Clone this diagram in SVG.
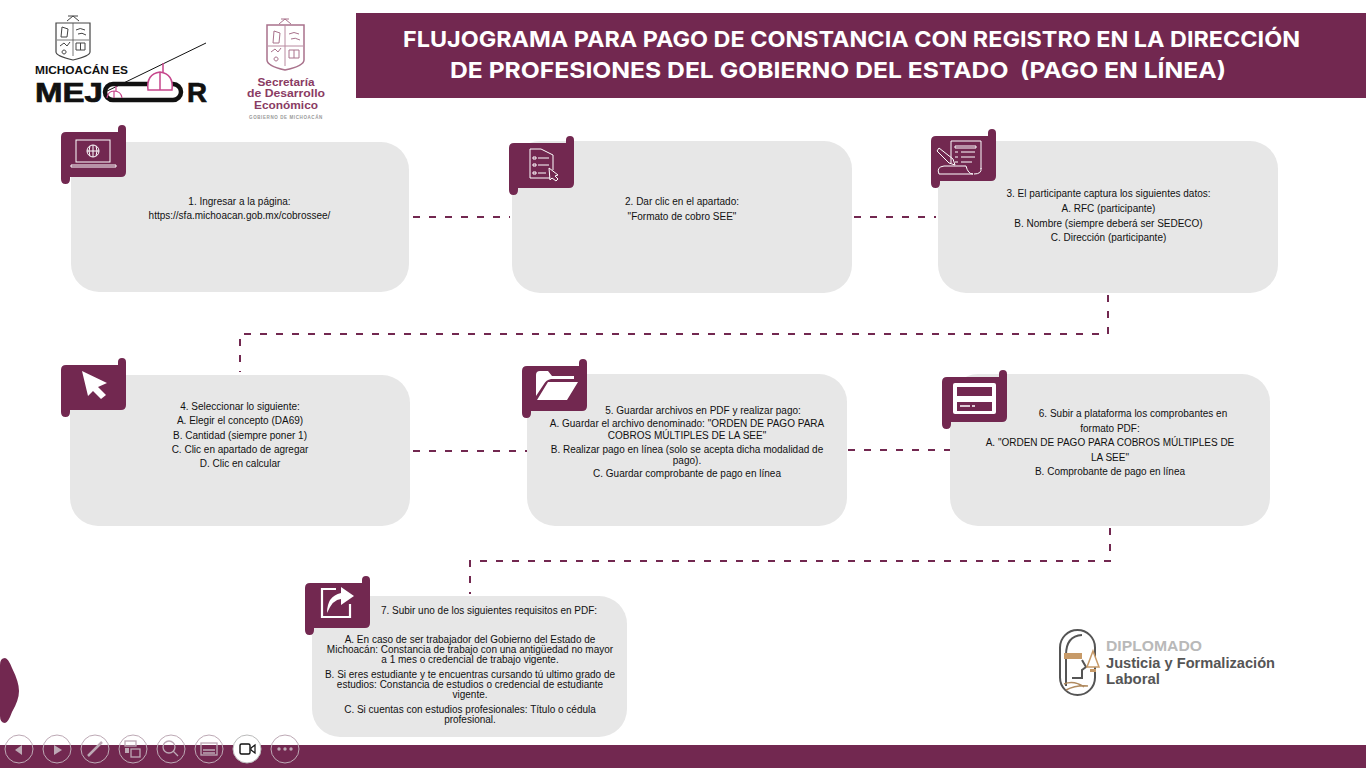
<svg xmlns="http://www.w3.org/2000/svg" width="1366" height="768" viewBox="0 0 1366 768">
<style>
.box{fill:#e7e7e7}
.ban{fill:#722850}
.t{font-family:"Liberation Sans",Arial,sans-serif;font-size:10px;fill:#111;text-anchor:middle}
.h{font-family:Inter,"Open Sans",sans-serif;font-weight:700;font-size:22px;fill:#fff;text-anchor:middle}
.c{fill:none;stroke:#722850;stroke-width:2;stroke-dasharray:7 9}
.i{fill:none;stroke:#fff;stroke-width:1}
.tb{fill:none;stroke:#bda9b5;stroke-width:1}
.tbi{fill:#bda9b5}
.tbs{fill:none;stroke:#bda9b5;stroke-width:1.300}
.lg{font-family:"Liberation Sans",sans-serif;font-weight:700;text-anchor:middle}
.ls{font-family:"Liberation Sans",sans-serif;font-weight:700;font-size:14.500px}
.crest{fill:none;stroke:#444;stroke-width:1}
.crest2{fill:none;stroke:#a9728c;stroke-width:1}
</style>
<defs>
<path id="banner" d="M0 5Q0 0 5 0H57V-3Q57 -7 61 -7Q65 -7 65 -3V40Q65 45 60 45H9V47Q9 52 4.500 52Q0 52 0 47Z"/>
</defs>
<rect width="1366" height="768" fill="#fff"/>

<g id="header">
<rect x="356" y="13" width="1010" height="85" class="ban"/>
<text class="h" x="851.500" y="47" textLength="897" lengthAdjust="spacingAndGlyphs">FLUJOGRAMA PARA PAGO DE CONSTANCIA CON REGISTRO EN LA DIRECCIÓN</text>
<text class="h" x="838" y="78" textLength="776" lengthAdjust="spacingAndGlyphs" xml:space="preserve">DE PROFESIONES DEL GOBIERNO DEL ESTADO  (PAGO EN LÍNEA)</text>
</g>

<g id="logo-michoacan">
<path d="M56 23H90V52Q90 56 73 60Q56 56 56 52Z" fill="#fff" stroke="#444" stroke-width="1.200"/>
<path d="M73 23V56M57 40H89" stroke="#555" stroke-width=".8"/>
<path class="crest" d="M62 27L68 29L67 37H61ZM76 30Q80 27 85 30M78 34Q82 32 86 35M60 46L64 43L67 46L70 42M64 50a2 2 0 1 0 .1 0M76 43H85V50H76ZM80.500 43V50"/>
<path class="crest" d="M67 21L73 16L79 21M68 16H78"/>
<text x="81.500" y="74" class="lg" font-size="11.500" fill="#111" textLength="93" lengthAdjust="spacingAndGlyphs">MICHOACÁN ES</text>
<text x="69" y="102" class="lg" font-size="28" fill="#111" stroke="#111" stroke-width=".7" textLength="68" lengthAdjust="spacingAndGlyphs">MEJ</text>
<rect x="105" y="84" width="76" height="16" rx="8" fill="#fff" stroke="#111" stroke-width="4.500"/>
<text x="197" y="102" class="lg" font-size="28" fill="#111" stroke="#111" stroke-width=".7" textLength="20" lengthAdjust="spacingAndGlyphs">R</text>
<path d="M103 93L206 43" stroke="#111" stroke-width="1"/>
<path d="M163 63V72M148 90Q146 74 160 72Q174 74 172 90ZM160 73V90" fill="#fff" stroke="#c6468c" stroke-width="1.500"/>
<path d="M116 86V91M107 98Q108 91 114 91Q121 91 122 98M114 91V98" fill="none" stroke="#c6468c" stroke-width="1.200"/>
</g>

<g id="logo-secretaria">
<path d="M267 25H304V60Q304 66 285 70Q267 66 267 60Z" fill="#fff" stroke="#a9728c" stroke-width="1.500"/>
<path d="M285 25V66M268 46H303" stroke="#b88aa0"/>
<path class="crest2" d="M274 31L280 33L279 43H273ZM289 34Q294 31 299 34M291 39Q295 37 300 40M271 52L275 49L278 52L281 48M276 57a2 2 0 1 0 .1 0M289 50H299V58H289ZM294 50V58"/>
<path class="crest2" d="M279 24L285 19L291 24M281 19H289"/>
<text class="lg" x="286" y="85.500" font-size="11.500" fill="#8a3b63" textLength="57" lengthAdjust="spacingAndGlyphs">Secretaría</text>
<text class="lg" x="286" y="97" font-size="11.500" fill="#8a3b63" textLength="78" lengthAdjust="spacingAndGlyphs">de Desarrollo</text>
<text class="lg" x="286" y="108.500" font-size="11.500" fill="#8a3b63" textLength="64" lengthAdjust="spacingAndGlyphs">Económico</text>
<text class="lg" x="286" y="119" font-size="4.500" fill="#999" font-weight="400" letter-spacing=".6">GOBIERNO DE MICHOACÁN</text>
</g>

<g id="connectors">
<path class="c" d="M413 217H510"/>
<path class="c" d="M854 217H936"/>
<path class="c" d="M1108 295V334H240V372"/>
<path class="c" d="M413 451H527"/>
<path class="c" d="M848 450H950"/>
<path class="c" d="M1110 528V561H470V594"/>
</g>

<g id="node1">
<rect class="box" x="71" y="142" width="338" height="150" rx="28"/>
<use href="#banner" class="ban" x="61" y="132"/>
<rect class="i" x="76" y="140" width="34" height="22"/>
<circle class="i" cx="93" cy="151" r="6"/><path class="i" d="M87 151H99M93 145V157M90 146Q88 151 90 156M96 146Q98 151 96 156"/>
<path class="i" d="M71 165H116V167H71Z"/>
<text class="t" x="239.500" y="205">1. Ingresar a la página:</text>
<text class="t" x="239.500" y="219">https://sfa.michoacan.gob.mx/cobrossee/</text>
</g>

<g id="node2">
<rect class="box" x="512" y="141" width="340" height="152" rx="28"/>
<use href="#banner" class="ban" x="509" y="143"/>
<path class="i" d="M530 149H541L553 155V170M530 149V178H550"/>
<path class="i" d="M533 157h3v2h-3zM538 158H549M533 164h3v2h-3zM538 165H549M533 172h3v2h-3zM538 173H546"/>
<path class="i" d="M549 168L558 175L555 176L558 179L556 181L552 178L550 180Z"/>
<text class="t" x="682" y="205">2. Dar clic en el apartado:</text>
<text class="t" x="682" y="220">"Formato de cobro SEE"</text>
</g>

<g id="node3">
<rect class="box" x="938" y="141" width="340" height="152" rx="28"/>
<use href="#banner" class="ban" x="931" y="136"/>
<path class="i" d="M951 141H981V169M951 141V163M939 174Q936 167 944 166H966Q968 174 973 174H943ZM981 168Q982 174 974 174"/>
<path class="i" d="M955 146H976V148H955ZM955 152h3M961 152H975M955 157h3M961 157H975M955 162h3M961 162H972"/>
<path class="i" d="M939 148L953 159L955 165L949 163L937 151Z"/>
<text class="t" x="1108.500" y="197">3. El participante captura los siguientes datos:</text>
<text class="t" x="1108.500" y="212">A. RFC (participante)</text>
<text class="t" x="1108.500" y="227">B. Nombre (siempre deberá ser SEDECO)</text>
<text class="t" x="1108.500" y="241">C. Dirección (participante)</text>
</g>

<g id="node4">
<rect class="box" x="70" y="375" width="340" height="151" rx="28"/>
<use href="#banner" class="ban" x="61" y="365"/>
<path d="M82 371L107 383L98 387L106 395L101 399L93 391L88 396Z" fill="#fff"/>
<text class="t" x="240" y="410">4. Seleccionar lo siguiente:</text>
<text class="t" x="240" y="424">A. Elegir el concepto (DA69)</text>
<text class="t" x="240" y="439">B. Cantidad (siempre poner 1)</text>
<text class="t" x="240" y="453">C. Clic en apartado de agregar</text>
<text class="t" x="240" y="467">D. Clic en calcular</text>
</g>

<g id="node5">
<rect class="box" x="527" y="374" width="320" height="152" rx="28"/>
<use href="#banner" class="ban" x="522" y="366"/>
<path d="M536 396V375Q536 371 540 371H548L552 376H574V379H551Q546 380 544 384ZM537 400L548 382H578L567 400Z" fill="#fff"/>
<text class="t" x="703" y="414">5. Guardar archivos en PDF y realizar pago:</text>
<text class="t" x="687" y="427">A. Guardar el archivo denominado: "ORDEN DE PAGO PARA</text>
<text class="t" x="687" y="439">COBROS MÚLTIPLES DE LA SEE"</text>
<text class="t" x="687" y="453">B. Realizar pago en línea (solo se acepta dicha modalidad de</text>
<text class="t" x="687" y="464">pago).</text>
<text class="t" x="687" y="477">C. Guardar comprobante de pago en línea</text>
</g>

<g id="node6">
<rect class="box" x="950" y="374" width="320" height="152" rx="28"/>
<use href="#banner" class="ban" x="942" y="377"/>
<rect x="953" y="383" width="43" height="31" rx="2" fill="#fff"/>
<rect x="957" y="387" width="35" height="9" class="ban"/>
<rect x="957" y="402" width="35" height="9" class="ban"/>
<path d="M960 406H970M972 406H975" stroke="#fff" stroke-width="1.500"/>
<text class="t" x="1133" y="417">6. Subir a plataforma los comprobantes en</text>
<text class="t" x="1110" y="432">formato PDF:</text>
<text class="t" x="1110" y="446">A. "ORDEN DE PAGO PARA COBROS MÚLTIPLES DE</text>
<text class="t" x="1110" y="461">LA SEE"</text>
<text class="t" x="1110" y="475">B. Comprobante de pago en línea</text>
</g>

<g id="node7">
<rect class="box" x="312" y="596" width="315" height="141" rx="28"/>
<use href="#banner" class="ban" x="305" y="583"/>
<path d="M336 589H322V617H350V604" fill="none" stroke="#fff" stroke-width="2.200"/>
<path d="M327 613Q327 596 341 593V587L354 596L341 605V599Q333 599 327 613Z" fill="#fff"/>
<text class="t" x="489" y="614">7. Subir uno de los siguientes requisitos en PDF:</text>
<text class="t" x="470" y="643">A. En caso de ser trabajador del Gobierno del Estado de</text>
<text class="t" x="470" y="653">Michoacán: Constancia de trabajo con una antigüedad no mayor</text>
<text class="t" x="470" y="663">a 1 mes o credencial de trabajo vigente.</text>
<text class="t" x="470" y="678">B. Si eres estudiante y te encuentras cursando tú ultimo grado de</text>
<text class="t" x="470" y="688">estudios: Constancia de estudios o credencial de estudiante</text>
<text class="t" x="470" y="698">vigente.</text>
<text class="t" x="470" y="713">C. Si cuentas con estudios profesionales: Título o cédula</text>
<text class="t" x="470" y="723">profesional.</text>
</g>

<g id="logo-diplomado">
<rect x="1060" y="630" width="35" height="65" rx="17.500" fill="none" stroke="#555" stroke-width="2"/>
<path d="M1066 686V655Q1066 636 1082 635M1082 660L1086 667L1082 670V678H1072" fill="none" stroke="#555" stroke-width="2"/>
<rect x="1064" y="653" width="18" height="6" fill="#c79a68"/>
<path d="M1064 684Q1074 680 1084 687M1066 690Q1076 685 1088 686" fill="none" stroke="#b08a5f" stroke-width="1.500"/>
<path d="M1093 651L1099 667H1087Z" fill="#fff" stroke="#c79a68" stroke-width="1.500"/>
<path d="M1090 669H1096V672H1090Z" fill="#c79a68"/>
<text x="1106" y="650.500" class="ls" fill="#b9b9b9" textLength="96" lengthAdjust="spacingAndGlyphs">DIPLOMADO</text>
<text x="1106" y="667.500" class="ls" fill="#555" textLength="169" lengthAdjust="spacingAndGlyphs">Justicia y Formalización</text>
<text x="1106" y="684" class="ls" fill="#555" textLength="54" lengthAdjust="spacingAndGlyphs">Laboral</text>
</g>

<g id="side-shape">
<path d="M5 658Q8 658 12 668Q19 682 19 691Q19 700 12 712Q8 723 5 723Q0 723 0 716V665Q0 658 5 658Z" class="ban"/>
</g>

<g id="bottom-bar">
<rect x="0" y="745" width="1366" height="23" class="ban"/>
<circle class="tb" cx="19" cy="749" r="14"/><path class="tbi" d="M22 745V755L15 750Z"/>
<circle class="tb" cx="57" cy="749" r="14"/><path class="tbi" d="M54 745V755L62 750Z"/>
<circle class="tb" cx="95" cy="749" r="14"/><path class="tbs" style="stroke-width:2.500" d="M88 756L102 742"/>
<circle class="tb" cx="133" cy="749" r="14"/><rect class="tbs" x="125" y="741" width="11" height="5"/><rect class="tbs" x="131" y="749" width="9" height="8"/><rect class="tbi" x="125" y="748" width="4" height="5"/>
<circle class="tb" cx="171" cy="749" r="14"/><circle class="tbs" cx="169" cy="747" r="6"/><path class="tbs" d="M173 751L178 756"/>
<circle class="tb" cx="209" cy="749" r="14"/><rect class="tbs" x="201" y="743" width="16" height="12"/><path class="tbs" d="M203 750H215M203 753H215"/>
<circle cx="247" cy="749" r="14" fill="#fff" stroke="#bbb" stroke-width="1"/><rect x="240" y="744" width="10" height="10" rx="1.500" fill="none" stroke="#111" stroke-width="1.400"/><path d="M251 748L255 745V753L251 750Z" fill="none" stroke="#111" stroke-width="1.200"/>
<circle class="tb" cx="285" cy="749" r="14"/><circle class="tbi" cx="279" cy="749" r="1.700"/><circle class="tbi" cx="285" cy="749" r="1.700"/><circle class="tbi" cx="291" cy="749" r="1.700"/>
</g>
</svg>
